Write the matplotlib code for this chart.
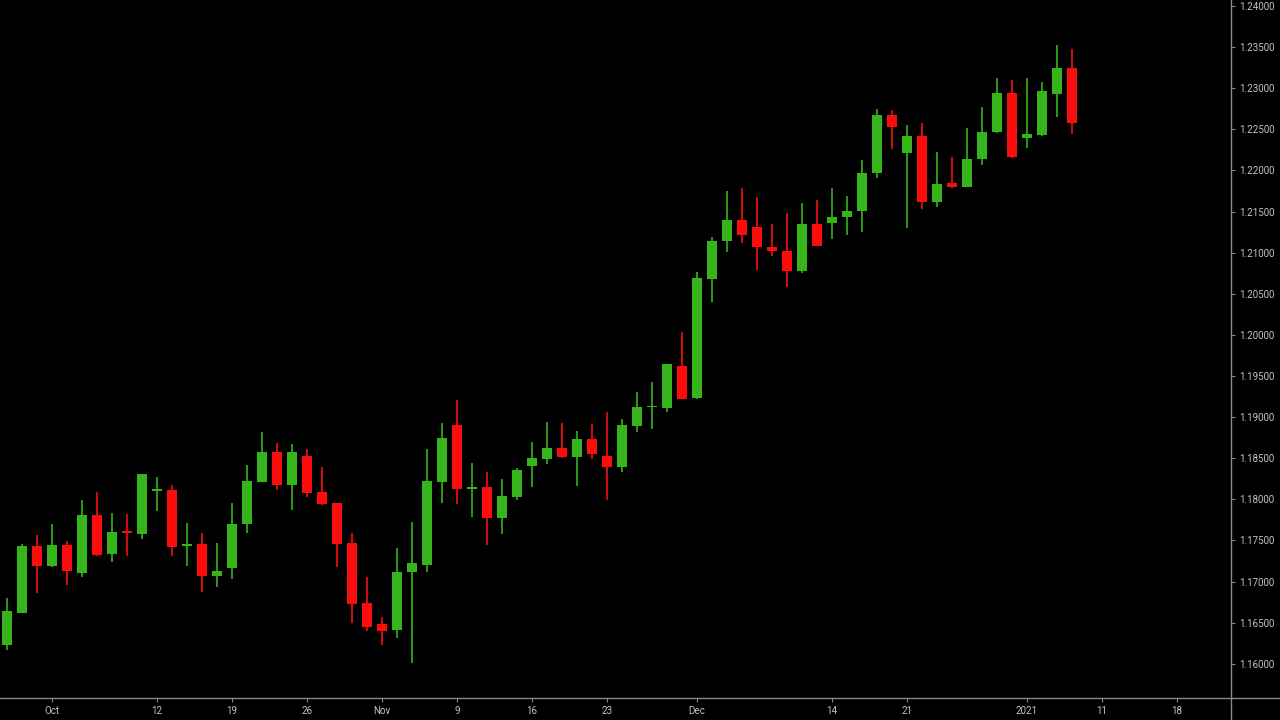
import matplotlib.pyplot as plt
import numpy as np
from matplotlib.lines import Line2D

# daily candles, trading-day index 0 = Sep 28 2020 ... 71 = Jan 7 2021
opens = [1.16224, 1.16620, 1.17432, 1.17189, 1.17448, 1.17107, 1.17813, 1.17335, 1.17606, 1.17578,
         1.18098, 1.18113, 1.17432, 1.17456, 1.17071, 1.17164, 1.17696, 1.18214, 1.18579, 1.18170,
         1.18530, 1.18092, 1.17951, 1.17465, 1.16735, 1.16479, 1.16410, 1.17112, 1.17201, 1.18214,
         1.18904, 1.18126, 1.18146, 1.17776, 1.18024, 1.18405, 1.18494, 1.18620, 1.18511, 1.18730,
         1.18521, 1.18397, 1.18892, 1.19118, 1.19114, 1.19622, 1.19229, 1.20680, 1.21142, 1.21398,
         1.21316, 1.21073, 1.21024, 1.20781, 1.21349, 1.21358, 1.21430, 1.21507, 1.21966, 1.22675,
         1.22209, 1.22420, 1.21620, 1.21844, 1.21803, 1.22136, 1.22465, 1.22939, 1.22392, 1.22432,
         1.22930, 1.23250]
highs = [1.16803, 1.17456, 1.17566, 1.17699, 1.17496, 1.17991, 1.18092, 1.17830, 1.17821, 1.18310,
         1.18275, 1.18174, 1.17715, 1.17594, 1.17468, 1.17951, 1.18417, 1.18815, 1.18681, 1.18669,
         1.18608, 1.18397, 1.17960, 1.17594, 1.17058, 1.16564, 1.17411, 1.17727, 1.18608, 1.18925,
         1.19208, 1.18445, 1.18336, 1.18243, 1.18377, 1.18701, 1.18944, 1.18925, 1.18834, 1.18916,
         1.19066, 1.18973, 1.19302, 1.19431, 1.19650, 1.20039, 1.20769, 1.21187, 1.21754, 1.21783,
         1.21681, 1.21349, 1.21479, 1.21608, 1.21641, 1.21783, 1.21693, 1.22128, 1.22744, 1.22736,
         1.22553, 1.22581, 1.22221, 1.22160, 1.22513, 1.22772, 1.23121, 1.23101, 1.23121, 1.23080,
         1.23527, 1.23474]
lows = [1.16167, 1.16617, 1.16856, 1.17180, 1.16957, 1.17058, 1.17310, 1.17241, 1.17310, 1.17513,
        1.17861, 1.17310, 1.17189, 1.16876, 1.16937, 1.17027, 1.17594, 1.18210, 1.18113, 1.17870,
        1.18032, 1.17935, 1.17180, 1.16499, 1.16401, 1.16224, 1.16309, 1.16012, 1.17116, 1.17951,
        1.17943, 1.17788, 1.17444, 1.17578, 1.17991, 1.18146, 1.18429, 1.18500, 1.18162, 1.18487,
        1.17991, 1.18336, 1.18822, 1.18851, 1.19066, 1.19215, 1.19220, 1.20404, 1.21012, 1.21114,
        1.20789, 1.20960, 1.20586, 1.20749, 1.21080, 1.21163, 1.21215, 1.21255, 1.21905, 1.22258,
        1.21297, 1.21528, 1.21552, 1.21783, 1.21795, 1.22067, 1.22460, 1.22150, 1.22270, 1.22420,
        1.22647, 1.22444]
closes = [1.16645, 1.17432, 1.17192, 1.17448, 1.17131, 1.17809, 1.17326, 1.17606, 1.17590, 1.18304,
          1.18110, 1.17423, 1.17448, 1.17071, 1.17131, 1.17699, 1.18223, 1.18579, 1.18170, 1.18579,
          1.18080, 1.17943, 1.17456, 1.16726, 1.16443, 1.16401, 1.17119, 1.17221, 1.18223, 1.18742,
          1.18125, 1.18140, 1.17776, 1.18040, 1.18356, 1.18506, 1.18620, 1.18511, 1.18730, 1.18551,
          1.18389, 1.18904, 1.19126, 1.19128, 1.19642, 1.19224, 1.20688, 1.21146, 1.21398, 1.21215,
          1.21066, 1.21020, 1.20781, 1.21349, 1.21085, 1.21438, 1.21511, 1.21973, 1.22675, 1.22525,
          1.22420, 1.21620, 1.21836, 1.21795, 1.22140, 1.22468, 1.22939, 1.22160, 1.22440, 1.22971,
          1.23243, 1.22574]

tick_pos = [3, 10, 15, 20, 25, 30, 35, 40, 46, 55, 60, 68, 73, 78]
tick_labels = ['Oct', '12', '19', '26', 'Nov', '9', '16', '23', 'Dec', '14', '21', '2021', '11', '18']
price_ticks = np.arange(1.16, 1.24001, 0.005)

up_color = '#35b41c'
down_color = '#fb0d0d'
axis_color = '#8a8a8a'
text_color = '#c4c4c4'

fig = plt.figure(figsize=(12.8, 7.2), dpi=100, facecolor='black')
# plot area: 1231 px wide, 698 px tall, x-axis strip below
ax = fig.add_axes([0, 22 / 720, 1231 / 1280, 698 / 720], facecolor='black')

x = np.arange(len(opens))
o = np.array(opens)
c = np.array(closes)
colors = [up_color if cc >= oo else down_color for oo, cc in zip(o, c)]

# wicks
ax.vlines(x, lows, highs, colors=colors, linewidth=1.2, zorder=2)
# bodies (dojis get a thin visible bar)
bottoms = np.minimum(o, c)
heights = np.maximum(np.abs(c - o), 0.00022)
ax.bar(x, heights, bottom=bottoms, width=0.72, color=colors, linewidth=0, zorder=3)

ax.set_xlim(-0.467, 81.6)
ax.set_ylim(1.15583, 1.24074)

ax.yaxis.tick_right()
ax.set_yticks(price_ticks)
ax.set_yticklabels([f'{v:.5f}' for v in price_ticks])
ax.set_xticks(tick_pos)
ax.set_xticklabels(tick_labels)
ax.tick_params(axis='both', colors=axis_color, labelcolor=text_color, labelsize=7,
               length=3, width=0.8, direction='out')
ax.tick_params(axis='y', pad=3)
ax.tick_params(axis='x', pad=3)
for lab in ax.get_xticklabels() + ax.get_yticklabels():
    lab.set_fontfamily('Roboto')

for side in ['top', 'left', 'right', 'bottom']:
    ax.spines[side].set_visible(False)

# axis lines run across the whole canvas like on the trading screen
fig.add_artist(Line2D([0, 1], [22 / 720, 22 / 720], transform=fig.transFigure,
                      color=axis_color, linewidth=1))
fig.add_artist(Line2D([1231 / 1280, 1231 / 1280], [0, 1], transform=fig.transFigure,
                      color=axis_color, linewidth=1))

fig.savefig('out.png', dpi=100, facecolor='black')
